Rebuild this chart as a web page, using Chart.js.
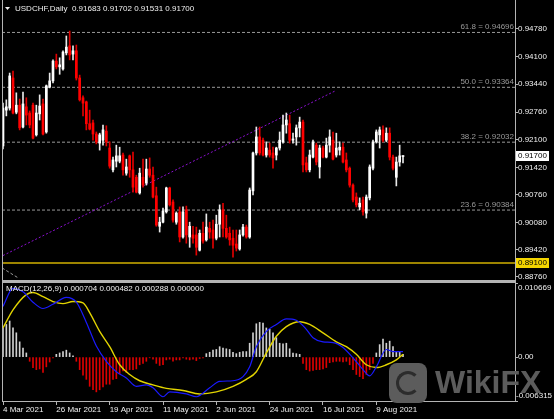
<!DOCTYPE html>
<html>
<head>
<meta charset="utf-8">
<script src="https://cdn.jsdelivr.net/npm/chart.js@4.4.0/dist/chart.umd.min.js"></script>
<style>
  html, body { margin: 0; padding: 0; background: #000; }
  #wrap { position: relative; width: 554px; height: 419px; overflow: hidden; background: #000; }
  #priceBox { position: absolute; left: 0; top: 0; width: 554px; height: 282px; }
  #macdBox { position: absolute; left: 0; top: 282px; width: 554px; height: 137px; }
  .wm-icon { position: absolute; left: 389px; top: 363px; width: 38px; height: 40px; border-radius: 8px; background: #5c5c5c; }
  .wm-icon div { position: absolute; left: 7px; top: 8px; width: 18px; height: 18px; border-radius: 50%; border: 3px solid #2c2c2c; border-right-color: transparent; }
  .wm-text { position: absolute; left: 435px; top: 366px; font: bold 32px "Liberation Sans", Arial, sans-serif; line-height: 32px; color: #5c5c5c; }
</style>
</head>
<body>
<div id="wrap">
  <div id="priceBox"><canvas id="priceChart" width="554" height="282"></canvas></div>
  <div id="macdBox"><canvas id="macdChart" width="554" height="137"></canvas></div>
  <div class="wm-icon"><div></div></div>
  <div class="wm-text">WikiFX</div>
</div>
<script>
// USDCHF daily candles, 4 Mar 2021 .. 19 Aug 2021 (bar index 0..120)
const opens = [
  0.9194, 0.9281, 0.9286, 0.9359, 0.9276, 0.9293, 0.9240, 0.9289, 0.9274, 0.9293,
  0.9221, 0.9272, 0.9296, 0.9228, 0.9337, 0.9352, 0.9400, 0.9386, 0.9381, 0.9420,
  0.9437, 0.9417, 0.9425, 0.9359, 0.9311, 0.9301, 0.9248, 0.9250, 0.9223, 0.9201,
  0.9208, 0.9230, 0.9189, 0.9136, 0.9157, 0.9157, 0.9172, 0.9128, 0.9170, 0.9136,
  0.9118, 0.9080, 0.9118, 0.9104, 0.9138, 0.9123, 0.9073, 0.8999, 0.9009, 0.9034,
  0.9092, 0.9058, 0.9009, 0.9034, 0.8973, 0.9039, 0.8973, 0.8978, 0.8978, 0.8941,
  0.8982, 0.8966, 0.8994, 0.8990, 0.8970, 0.9004, 0.9039, 0.8994, 0.8982, 0.8970,
  0.8956, 0.8944, 0.8978, 0.8997, 0.8973, 0.9085, 0.9177, 0.9216, 0.9208, 0.9172,
  0.9184, 0.9177, 0.9172, 0.9189, 0.9204, 0.9245, 0.9248, 0.9208, 0.9216, 0.9238,
  0.9252, 0.9153, 0.9136, 0.9167, 0.9196, 0.9143, 0.9189, 0.9167, 0.9196, 0.9208,
  0.9172, 0.9184, 0.9191, 0.9160, 0.9140, 0.9099, 0.9070, 0.9046, 0.9063, 0.9031,
  0.9068, 0.9140, 0.9204, 0.9221, 0.9233, 0.9208, 0.9225, 0.9167, 0.9118, 0.9155,
  0.91683
];
const highs = [
  0.9298, 0.9306, 0.9371, 0.9376, 0.9323, 0.9308, 0.9325, 0.9311, 0.9279, 0.9298,
  0.9293, 0.9318, 0.9308, 0.9342, 0.9371, 0.9403, 0.9417, 0.9408, 0.9425, 0.9461,
  0.9473, 0.9437, 0.9439, 0.9366, 0.9316, 0.9303, 0.9281, 0.9257, 0.9228, 0.9225,
  0.9245, 0.9243, 0.9204, 0.9167, 0.9196, 0.9191, 0.9177, 0.9162, 0.9172, 0.9179,
  0.9123, 0.9140, 0.9162, 0.9162, 0.9165, 0.9143, 0.9094, 0.9021, 0.9043, 0.9094,
  0.9094, 0.9063, 0.9034, 0.9046, 0.9046, 0.9048, 0.9009, 0.8999, 0.8997, 0.8990,
  0.9009, 0.9029, 0.9009, 0.9014, 0.9026, 0.9051, 0.9055, 0.9026, 0.8997, 0.8990,
  0.8990, 0.8990, 0.9004, 0.9002, 0.9092, 0.9179, 0.9240, 0.9240, 0.9213, 0.9204,
  0.9201, 0.9191, 0.9191, 0.9228, 0.9269, 0.9274, 0.9269, 0.9225, 0.9245, 0.9264,
  0.9257, 0.9167, 0.9184, 0.9208, 0.9201, 0.9196, 0.9194, 0.9213, 0.9233, 0.9228,
  0.9225, 0.9204, 0.9201, 0.9177, 0.9143, 0.9102, 0.9080, 0.9068, 0.9070, 0.9075,
  0.9148, 0.9208, 0.9233, 0.9240, 0.9243, 0.9238, 0.9238, 0.9172, 0.9167, 0.9196,
  0.91702
];
const lows = [
  0.9187, 0.9267, 0.9281, 0.9272, 0.9272, 0.9233, 0.9238, 0.9245, 0.9238, 0.9211,
  0.9218, 0.9257, 0.9221, 0.9225, 0.9335, 0.9347, 0.9381, 0.9368, 0.9378, 0.9415,
  0.9403, 0.9403, 0.9354, 0.9303, 0.9267, 0.9233, 0.9233, 0.9208, 0.9199, 0.9184,
  0.9196, 0.9194, 0.9140, 0.9131, 0.9143, 0.9153, 0.9123, 0.9123, 0.9118, 0.9082,
  0.9080, 0.9077, 0.9094, 0.9099, 0.9118, 0.9068, 0.8999, 0.8985, 0.9007, 0.9031,
  0.9048, 0.9009, 0.9004, 0.8961, 0.8970, 0.8958, 0.8948, 0.8958, 0.8929, 0.8939,
  0.8958, 0.8963, 0.8970, 0.8946, 0.8966, 0.8973, 0.8973, 0.8970, 0.8953, 0.8924,
  0.8939, 0.8941, 0.8975, 0.8970, 0.8970, 0.9075, 0.9172, 0.9172, 0.9170, 0.9167,
  0.9167, 0.9140, 0.9160, 0.9184, 0.9201, 0.9225, 0.9201, 0.9201, 0.9196, 0.9216,
  0.9131, 0.9131, 0.9131, 0.9165, 0.9148, 0.9116, 0.9165, 0.9165, 0.9179, 0.9160,
  0.9167, 0.9172, 0.9153, 0.9131, 0.9094, 0.9058, 0.9046, 0.9039, 0.9026, 0.9019,
  0.9063, 0.9136, 0.9201, 0.9189, 0.9204, 0.9204, 0.9160, 0.9136, 0.9097, 0.9145,
  0.91531
];
const closes = [
  0.9286, 0.9289, 0.9364, 0.9274, 0.9293, 0.9238, 0.9296, 0.9269, 0.9245, 0.9213,
  0.9274, 0.9291, 0.9223, 0.9340, 0.9352, 0.9400, 0.9386, 0.9391, 0.9422, 0.9434,
  0.9415, 0.9425, 0.9359, 0.9306, 0.9298, 0.9248, 0.9235, 0.9223, 0.9204, 0.9221,
  0.9233, 0.9204, 0.9145, 0.9160, 0.9170, 0.9170, 0.9136, 0.9143, 0.9136, 0.9094,
  0.9082, 0.9128, 0.9099, 0.9138, 0.9123, 0.9070, 0.9002, 0.9009, 0.9036, 0.9092,
  0.9051, 0.9014, 0.9031, 0.8973, 0.9034, 0.8978, 0.8999, 0.8970, 0.8948, 0.8982,
  0.8963, 0.8997, 0.8985, 0.8970, 0.9004, 0.9039, 0.8994, 0.8973, 0.8966, 0.8953,
  0.8946, 0.8978, 0.8997, 0.8973, 0.9087, 0.9177, 0.9216, 0.9177, 0.9172, 0.9189,
  0.9172, 0.9165, 0.9189, 0.9208, 0.9245, 0.9257, 0.9208, 0.9211, 0.9238, 0.9252,
  0.9148, 0.9136, 0.9172, 0.9204, 0.9155, 0.9189, 0.9167, 0.9196, 0.9216, 0.9162,
  0.9189, 0.9191, 0.9155, 0.9136, 0.9099, 0.9063, 0.9051, 0.9055, 0.9034, 0.9070,
  0.9143, 0.9204, 0.9228, 0.9233, 0.9208, 0.9225, 0.9167, 0.9140, 0.9155, 0.9170,
  0.91700
];

// chart objects
const fibNames = ['61.8', '50.0', '38.2', '23.6'];
const fibLevels = [0.94696, 0.93364, 0.92032, 0.90384];
const hLineLevel = 0.89100;
const trendIdx = [0, 100];
const trendVals = [0.8928, 0.9329];
const fibBaseIdx = [-0.3, 4.5];
const fibBaseVals = [0.8898, 0.8874];

// axes
const priceTicks = [0.94780, 0.94100, 0.93440, 0.92760, 0.92100, 0.91420, 0.90760, 0.90080, 0.89420, 0.88760];
const dateTickIdx = [0, 16, 32, 48, 64, 80, 96, 112];
const dateTickLabels = ['4 Mar 2021', '26 Mar 2021', '19 Apr 2021', '11 May 2021', '2 Jun 2021', '24 Jun 2021', '16 Jul 2021', '9 Aug 2021'];
const macdTicks = [0.010669, 0, -0.006315];
const macdTickLabels = ['0.010669', '0.00', '-0.006315'];

// MACD(12,26,9)
const macdHist = [
  0.0042, 0.0047, 0.0052, 0.0042, 0.0035, 0.0022, 0.0013, 0.0006, -0.0006, -0.0015,
  -0.0018, -0.0017, -0.0022, -0.0014, -0.0007, -0.0001, 0.0004, 0.0006, 0.0008, 0.0010,
  0.0006, 0.0002, -0.0006, -0.0018, -0.0026, -0.0032, -0.0042, -0.0047, -0.0050, -0.0047,
  -0.0043, -0.0039, -0.0039, -0.0032, -0.0031, -0.0024, -0.0020, -0.0022, -0.0018, -0.0018,
  -0.0017, -0.0011, -0.0009, -0.0006, -0.0001, -0.0003, -0.0009, -0.0012, -0.0011, -0.0004,
  -0.0003, -0.0006, -0.0004, -0.0004, -0.0001, -0.0003, -0.0004, -0.0003, -0.0005, -0.0002,
  -0.0001, 0.0005, 0.0007, 0.0010, 0.0011, 0.0015, 0.0013, 0.0012, 0.0011, 0.0007,
  0.0005, 0.0007, 0.0008, 0.0008, 0.0020, 0.0035, 0.0048, 0.0050, 0.0049, 0.0042,
  0.0040, 0.0035, 0.0028, 0.0020, 0.0019, 0.0020, 0.0012, 0.0006, 0.0005, 0.0004,
  -0.0009, -0.0018, -0.0020, -0.0019, -0.0018, -0.0018, -0.0017, -0.0015, -0.0008, -0.0007,
  -0.0006, -0.0006, -0.0007, -0.0006, -0.0011, -0.0018, -0.0025, -0.0028, -0.0031, -0.0025,
  -0.0018, -0.0009, 0.0006, 0.0018, 0.0026, 0.0020, 0.0023, 0.0015, 0.0008, 0.0007,
  0.0004
];
const macdMainIdx = [0, 3, 6, 9, 12, 15, 19, 22, 25, 28, 31, 34, 37, 40, 43, 45, 48, 50, 55, 58,
  62, 65, 69, 72, 74, 76, 79, 82, 85, 88, 91, 93, 96, 99, 102, 105, 108, 110, 112, 115, 117, 120];
const macdMainVals = [0.0073, 0.0099, 0.0094, 0.0079, 0.0070, 0.0076, 0.0086, 0.0079, 0.0050, 0.0016,
  -0.0006, -0.0021, -0.0030, -0.0042, -0.0040, -0.0044, -0.0057, -0.0050, -0.0053, -0.0057,
  -0.0044, -0.0035, -0.0034, -0.0028, -0.0014, 0.0015, 0.0037, 0.0047, 0.0055, 0.0053,
  0.0040, 0.0028, 0.0022, 0.0021, 0.0014, -0.0001, -0.0018, -0.0027, -0.0014, 0.0011, 0.0008, 0.0008];
const macdSignalIdx = [0, 3, 7, 9, 12, 15, 18, 21, 24, 26, 29, 32, 35, 38, 41, 45, 49, 54, 59, 64,
  69, 73, 76, 79, 82, 85, 89, 92, 96, 100, 103, 106, 109, 112, 115, 118, 120];
const macdSignalVals = [0.0042, 0.0068, 0.0090, 0.0093, 0.0087, 0.0080, 0.0077, 0.0080, 0.0078, 0.0064,
  0.0037, 0.0015, -0.0011, -0.0025, -0.0034, -0.0040, -0.0045, -0.0048, -0.0053, -0.0050,
  -0.0042, -0.0032, -0.0021, 0.0006, 0.0030, 0.0044, 0.0051, 0.0047, 0.0035, 0.0022,
  0.0015, 0.0004, -0.0011, -0.0015, -0.0011, -0.0004, 0.0004];
const macdTitle = 'MACD(12,26,9) 0.000704 0.000482 0.000288 0.000000';

const X_MIN = -0.3, X_MAX = 153.6;
const FONT = '"Liberation Sans", Arial, sans-serif';
const FRAME = '#b4b4b4';
const TEXT = '#f0f0f0';
const BULL = '#ffffff', BEAR = '#ff0000';

const isBull = i => closes[i] >= opens[i];
const lastIdx = closes.length - 1;

// keep the plot box exactly where we put it (no label overhang padding)
function fixWidth(w) {
  return s => { s.width = w; s.paddingTop = 0; s.paddingBottom = 0; };
}
function fixHeight(h) {
  return s => { s.height = h; s.paddingLeft = 0; s.paddingRight = 0; };
}

function drawTag(ctx, yScale, val, bg, left) {
  const py = Math.round(yScale.getPixelForValue(val));
  ctx.fillStyle = bg;
  ctx.fillRect(left + 1, py - 5, 33, 10);
  ctx.fillStyle = '#000';
  ctx.textAlign = 'left';
  ctx.textBaseline = 'middle';
  ctx.fillText(val.toFixed(5), left + 3, py);
}

const pricePanel = {
  id: 'pricePanel',
  beforeDraw(chart) {
    const { ctx, width, height } = chart;
    ctx.save();
    ctx.fillStyle = '#000';
    ctx.fillRect(0, 0, width, height);
    ctx.restore();
  },
  afterDraw(chart) {
    const { ctx, chartArea: a } = chart;
    const y = chart.scales.y;
    ctx.save();
    // frame
    ctx.strokeStyle = FRAME;
    ctx.lineWidth = 1;
    ctx.beginPath();
    ctx.moveTo(a.left + 0.5, 0); ctx.lineTo(a.left + 0.5, a.bottom);
    ctx.moveTo(a.right + 0.5, 0); ctx.lineTo(a.right + 0.5, chart.height);
    ctx.stroke();
    ctx.fillStyle = FRAME;
    ctx.fillRect(a.left, a.bottom, a.right - a.left + 1, 2);

    ctx.font = '8px ' + FONT;
    // fibo labels
    ctx.fillStyle = '#9a9a9a';
    ctx.textAlign = 'right';
    ctx.textBaseline = 'bottom';
    fibLevels.forEach((v, k) => {
      ctx.fillText(fibNames[k] + ' = ' + v.toFixed(5), a.right - 1, Math.round(y.getPixelForValue(v)) - 1);
    });

    // header
    ctx.fillStyle = TEXT;
    ctx.beginPath();
    ctx.moveTo(5, 7); ctx.lineTo(10, 7); ctx.lineTo(7.5, 10);
    ctx.closePath();
    ctx.fill();
    ctx.textAlign = 'left';
    ctx.textBaseline = 'middle';
    ctx.fillText('USDCHF,Daily  ' + [opens[lastIdx], highs[lastIdx], lows[lastIdx], closes[lastIdx]].map(v => v.toFixed(5)).join(' '), 15, 9);

    // price tags on the axis
    drawTag(ctx, y, closes[lastIdx], '#ffffff', a.right);
    drawTag(ctx, y, hLineLevel, '#f2d400', a.right);
    ctx.restore();
  }
};

const wickData = closes.map((c, i) => ({ x: i, y: [lows[i], highs[i]] }));
const bodyData = closes.map((c, i) => ({ x: i, y: [opens[i], c] }));

const fibSets = fibLevels.map(v => ({
  type: 'line',
  data: [{ x: X_MIN, y: v }, { x: X_MAX, y: v }],
  borderColor: '#9a9a9a',
  borderWidth: 1,
  borderDash: [3, 2],
  pointRadius: 0,
  order: 5
}));

new Chart(document.getElementById('priceChart'), {
  type: 'bar',
  data: {
    datasets: [
      {
        data: bodyData,
        backgroundColor: ctx => isBull(ctx.dataIndex) ? BULL : BEAR,
        barThickness: 2,
        minBarLength: 1,
        grouped: false,
        order: 0
      },
      {
        data: wickData,
        backgroundColor: ctx => isBull(ctx.dataIndex) ? '#e8e8e8' : '#e00000',
        barThickness: 1,
        grouped: false,
        order: 1
      },
      ...fibSets,
      {
        type: 'line',
        data: trendIdx.map((x, k) => ({ x: x, y: trendVals[k] })),
        borderColor: '#8a10d0',
        borderWidth: 1,
        borderDash: [2, 2],
        pointRadius: 0,
        order: 4
      },
      {
        type: 'line',
        data: fibBaseIdx.map((x, k) => ({ x: x, y: fibBaseVals[k] })),
        borderColor: '#9a9a9a',
        borderWidth: 1,
        borderDash: [3, 2],
        pointRadius: 0,
        order: 4
      },
      {
        type: 'line',
        data: [{ x: X_MIN, y: hLineLevel }, { x: X_MAX, y: hLineLevel }],
        borderColor: '#d2b000',
        borderWidth: 1.5,
        pointRadius: 0,
        order: 3
      }
    ]
  },
  options: {
    responsive: false,
    animation: false,
    events: [],
    layout: { padding: { left: 2, top: 2, right: 0, bottom: 2 } },
    plugins: { legend: { display: false }, tooltip: { enabled: false } },
    scales: {
      x: {
        type: 'linear', min: X_MIN, max: X_MAX, display: false,
        offset: false, grid: { offset: false }
      },
      y: {
        position: 'right',
        min: 0.88686, max: 0.95435,
        afterBuildTicks: s => { s.ticks = priceTicks.map(v => ({ value: v })); },
        afterFit: fixWidth(39),
        ticks: {
          autoSkip: false, padding: 0, color: TEXT,
          font: { family: FONT, size: 8 },
          callback: v => Number(v).toFixed(5)
        },
        grid: { drawOnChartArea: false, color: FRAME, tickLength: 3 },
        border: { display: false }
      }
    }
  },
  plugins: [pricePanel]
});

const macdPanel = {
  id: 'macdPanel',
  beforeDraw(chart) {
    const { ctx, width, height } = chart;
    ctx.save();
    ctx.fillStyle = '#000';
    ctx.fillRect(0, 0, width, height);
    ctx.restore();
  },
  afterDraw(chart) {
    const { ctx, chartArea: a } = chart;
    const y = chart.scales.y;
    ctx.save();
    ctx.strokeStyle = FRAME;
    ctx.lineWidth = 1;
    ctx.strokeRect(a.left + 0.5, a.top - 0.5, a.right - a.left, a.bottom - a.top + 1);

    ctx.font = '8px ' + FONT;
    ctx.fillStyle = TEXT;
    ctx.textAlign = 'left';
    ctx.textBaseline = 'middle';
    ctx.fillText(macdTitle, 6, 7);

    // axis values: top one sits below the edge, bottom one above it
    macdTicks.forEach((v, k) => {
      let py = y.getPixelForValue(v);
      if (k === 0) py += 5;
      if (k === macdTicks.length - 1) py -= 5;
      ctx.fillText(macdTickLabels[k], a.right + (v < 0 ? 1 : 3), py);
    });
    ctx.restore();
  }
};

new Chart(document.getElementById('macdChart'), {
  type: 'bar',
  data: {
    datasets: [
      {
        type: 'line',
        data: macdMainIdx.map((x, k) => ({ x: x, y: macdMainVals[k] })),
        borderColor: '#1a1aff',
        borderWidth: 1.2,
        pointRadius: 0,
        cubicInterpolationMode: 'monotone',
        order: 0
      },
      {
        type: 'line',
        data: macdSignalIdx.map((x, k) => ({ x: x, y: macdSignalVals[k] })),
        borderColor: '#e2d400',
        borderWidth: 1.4,
        pointRadius: 0,
        cubicInterpolationMode: 'monotone',
        order: 1
      },
      {
        data: macdHist.map((v, i) => ({ x: i, y: v })),
        backgroundColor: ctx => macdHist[ctx.dataIndex] >= 0 ? '#d0d0d0' : '#dd0000',
        barThickness: 1,
        grouped: false,
        order: 2
      }
    ]
  },
  options: {
    responsive: false,
    animation: false,
    events: [],
    layout: { padding: { left: 2, top: 1, right: 0, bottom: 0 } },
    plugins: { legend: { display: false }, tooltip: { enabled: false } },
    scales: {
      x: {
        type: 'linear', min: X_MIN, max: X_MAX,
        offset: false,
        afterBuildTicks: s => { s.ticks = dateTickIdx.map(v => ({ value: v })); },
        afterFit: fixHeight(18),
        ticks: {
          autoSkip: false, maxRotation: 0, minRotation: 0, align: 'start', padding: 0,
          color: TEXT, font: { family: FONT, size: 8 },
          callback: v => dateTickLabels[dateTickIdx.indexOf(v)]
        },
        grid: { offset: false, drawOnChartArea: false, color: FRAME, tickLength: 4 },
        border: { display: false }
      },
      y: {
        position: 'right',
        min: -0.006315, max: 0.010669,
        afterBuildTicks: s => { s.ticks = macdTicks.map(v => ({ value: v })); },
        afterFit: fixWidth(39),
        ticks: { display: false },
        grid: { drawOnChartArea: false, color: FRAME, tickLength: 3 },
        border: { display: false }
      }
    }
  },
  plugins: [macdPanel]
});
</script>
</body>
</html>
